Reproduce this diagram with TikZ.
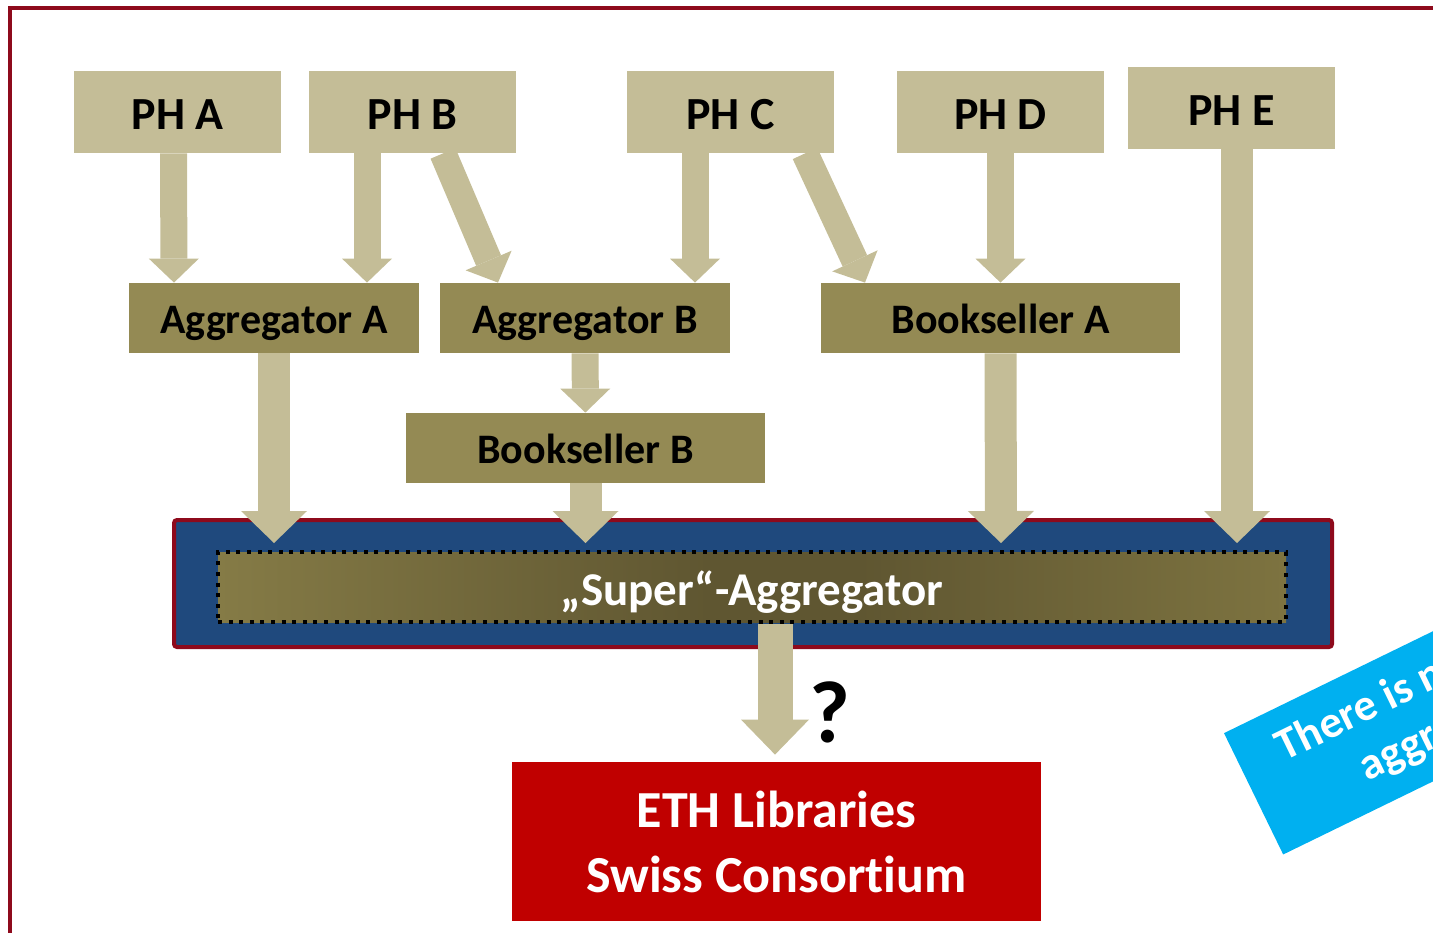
\documentclass[tikz,border=0pt]{standalone}
\usepackage{fontspec}
\setmainfont{Carlito}[Ligatures=NoCommon]
\usetikzlibrary{arrows.meta,calc}
\definecolor{phtan}{HTML}{C4BD97}
\definecolor{aggolive}{HTML}{948A54}
\definecolor{framered}{HTML}{8E0A1C}
\definecolor{boxblue}{HTML}{1F497D}
\definecolor{ethred}{HTML}{C00000}
\definecolor{noteblue}{HTML}{00B0F0}
\definecolor{barA}{HTML}{C9BF8E}
\definecolor{barB}{HTML}{AEA366}
\definecolor{barC}{HTML}{968C55}
\definecolor{barD}{HTML}{857B46}
\definecolor{barE}{HTML}{5F5631}
\definecolor{barF}{HTML}{7D7340}
\definecolor{barG}{HTML}{968C54}
\pgfdeclarehorizontalshading{superbar}{100bp}{color(0bp)=(barA); color(2bp)=(barB);
  color(6bp)=(barC); color(25bp)=(barD); color(48bp)=(barE); color(55bp)=(barE);
  color(75bp)=(barF); color(100bp)=(barG)}

\begin{document}
\begin{tikzpicture}[x=0.5pt,y=-0.5pt,
    phbox/.style={fill=phtan,minimum width=103.5pt,minimum height=41pt,inner sep=0pt,
      text height=17pt,text depth=0pt,font=\bfseries\fontsize{23}{28}\selectfont},
    aggbox/.style={fill=aggolive,minimum height=35pt,inner sep=0pt,
      text height=15.5pt,text depth=0pt,font=\bfseries\fontsize{21}{26}\selectfont},
    tanarrow/.style={draw=phtan,line width=13.5pt,-{Triangle[width=25pt,length=12pt,line width=0pt]}},
    bigarrow/.style={draw=phtan,line width=16pt,-{Triangle[width=33pt,length=16pt,line width=0pt]}}]
  \useasboundingbox (0,0) rectangle (1433,932);
  \clip (0,0) rectangle (1433,932);
  % frame
  \draw[framered,line width=2pt] (9.5,1000) -- (9.5,7.5) -- (1500,7.5);
  % publishing houses
  \node[phbox] (pha) at (177.5,112) {PH A};
  \node[phbox] (phb) at (412.5,112) {PH B};
  \node[phbox] (phc) at (730.5,112) {PH C};
  \node[phbox] (phd) at (1000.5,112) {PH D};
  \node[phbox] (phe) at (1231.5,108) {PH E};
  % aggregators and booksellers
  \node[aggbox,minimum width=145pt] (agga) at (274,318) {Aggregator A};
  \node[aggbox,minimum width=145pt] (aggb) at (585,318) {Aggregator B};
  \node[aggbox,minimum width=179.5pt] (booka) at (1000.5,318) {Bookseller A};
  \node[aggbox,minimum width=179.5pt] (bookb) at (585.5,448) {Bookseller B};
  % super-aggregator
  \node[draw=framered,line width=2pt,fill=boxblue,rounded corners=1.5pt,
    minimum width=579pt,minimum height=63.5pt] (superbox) at (753,583.5) {};
  \node[shading=superbar,draw=black,line width=2pt,dash pattern=on 2pt off 3.3pt,
    minimum width=534pt,minimum height=35pt,inner sep=0pt,text=white,
    text height=18pt,text depth=0pt,
    font=\bfseries\fontsize{23.5}{28}\selectfont] (superbar) at (752,587) {„Super“-Aggregator};
  % ETH
  \node[fill=ethred,minimum width=264.5pt,minimum height=79.5pt,text=white,align=center,
    font=\bfseries\fontsize{26}{32.5}\selectfont] (eth) at (776.5,841.5) {ETH Libraries\\Swiss Consortium};
  \node[font=\bfseries\fontsize{44}{50}\selectfont] (qm) at (830,712) {?};
  % arrows
  \draw[tanarrow] ($(pha.south)+(-4,0)$) -- ($(agga.north)+(-100,0)$);
  \draw[tanarrow] ($(phb.south)+(-45.5,0)$) -- ($(agga.north)+(93,0)$);
  \draw[tanarrow] ($(phb.south)+(30.5,0)$) -- ($(aggb.north)+(-87,0)$);
  \draw[tanarrow] ($(phc.south)+(-35.5,0)$) -- ($(aggb.north)+(110,0)$);
  \draw[tanarrow] ($(phc.south)+(74.5,0)$) -- ($(booka.north)+(-135.5,0)$);
  \draw[tanarrow] (phd) -- (booka);
  \draw[tanarrow] (aggb) -- (bookb);
  \draw[bigarrow] ($(phe.south)+(5.5,0)$) -- ($(superbox.north)+(484,25)$);
  \draw[bigarrow] (agga.south) -- ($(superbox.north)+(-479,25)$);
  \draw[bigarrow] (bookb.south) -- ($(superbox.north)+(-167.5,25)$);
  \draw[bigarrow] (booka.south) -- ($(superbox.north)+(248,25)$);
  \draw[bigarrow,line width=17.5pt,-{Triangle[width=34pt,length=17.5pt,line width=0pt]}]
    ($(superbar.south)+(23,0)$) -- ($(eth.north)+(-1.5,-7)$);
  % note
  \node[fill=noteblue,text=white,rotate=26,anchor=south west,align=center,
    inner xsep=21pt,minimum height=67.5pt,
    font=\bfseries\fontsize{22.5}{27}\selectfont] (note) at (1283,855) {There is no super-\\aggregator};
\end{tikzpicture}
\end{document}
